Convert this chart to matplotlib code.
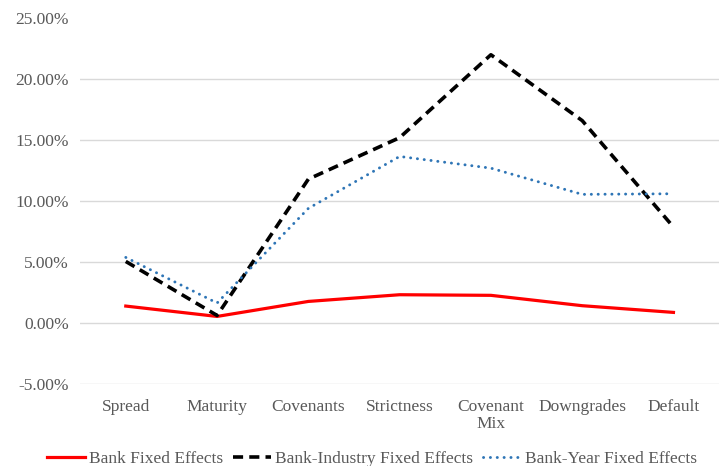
import matplotlib.pyplot as plt
import numpy as np

categories = ["Spread", "Maturity", "Covenants", "Strictness", "Covenant\nMix", "Downgrades", "Default"]
bank_fe = [1.39, 0.54, 1.77, 2.32, 2.27, 1.42, 0.87]
bank_industry_fe = [5.05, 0.62, 11.8, 15.2, 22.0, 16.6, 7.87]
bank_year_fe = [5.38, 1.64, 9.4, 13.66, 12.7, 10.55, 10.6]
yticks = [-5, 0, 5, 10, 15, 20, 25]

plt.rcParams['font.family'] = ['Liberation Serif', 'DejaVu Serif']

fig = plt.figure(figsize=(7.22, 4.66), dpi=100)
ax = fig.add_axes([0.111, 0.176, 0.885, 0.785])

x = np.arange(len(categories))

# light horizontal gridlines (none at the top of the axis)
for t in yticks[:-1]:
    ax.axhline(t, color='#d9d9d9', linewidth=1.0, zorder=0)

ax.plot(x, bank_fe, color='#ff0000', linewidth=2.3, label="Bank Fixed Effects")
ax.plot(x, bank_industry_fe, color='black', linewidth=2.6, linestyle=(0, (2.8, 1.7)),
        label="Bank-Industry Fixed Effects")
ax.plot(x, bank_year_fe, color='#2e75b6', linewidth=2.1, linestyle=(0, (0.05, 2.3)),
        dash_capstyle='round', label="Bank-Year Fixed Effects")

ax.set_xlim(-0.5, len(categories) - 0.5)
ax.set_ylim(-5, 25)
ax.set_yticks(yticks)
ax.set_yticklabels(["%.2f%%" % t for t in yticks])
ax.set_xticks(x)
ax.set_xticklabels(categories, linespacing=1.05)
ax.tick_params(axis='both', length=0, labelsize=12.5, colors='#595959', pad=8)
ax.tick_params(axis='x', pad=11)

for s in ax.spines.values():
    s.set_visible(False)

fig.legend(loc='lower center', bbox_to_anchor=(0.515, -0.035), ncol=3, frameon=False,
           fontsize=12.5, handlelength=2.2, handletextpad=0.2, columnspacing=0.6,
           labelcolor='#595959')

fig.savefig("out.png", dpi=100)
